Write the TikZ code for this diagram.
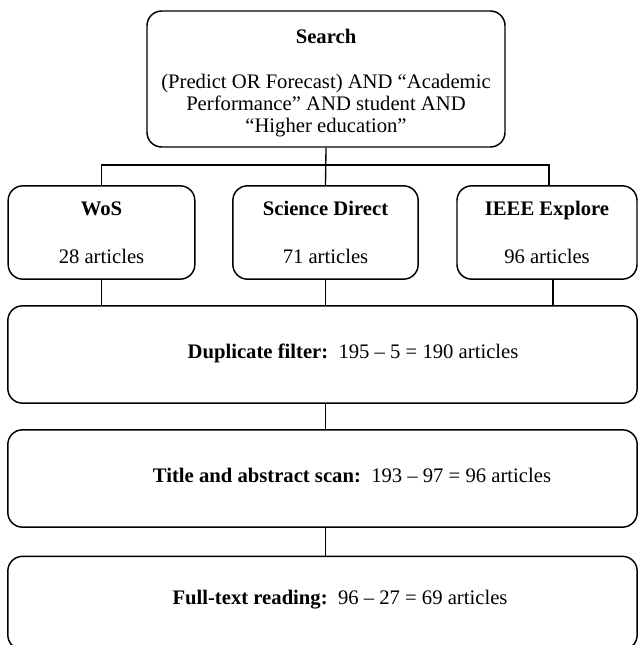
\documentclass[tikz,border=0pt]{standalone}
\usepackage{fontspec}
\setmainfont{Liberation Serif}
\begin{document}
\begin{tikzpicture}[x=0.75pt,y=-0.75pt,
  box/.style={draw,line width=1.1pt,rounded corners=11pt,align=center,inner sep=0pt,
    font=\fontsize{15.5}{16.2}\selectfont},
  lbl/.style={inner sep=0pt,align=center,font=\fontsize{15.5}{16.2}\selectfont},
  conn/.style={line width=1pt}]
\useasboundingbox (0,0) rectangle (638,645);
\clip (0,0) rectangle (638,645);
\node[box,minimum width=268.5pt,minimum height=102pt] (search) at (326,79) {};
\node[lbl] (searchtext) at (326,83)
  {\textbf{Search}\\[17.5pt](Predict OR Forecast) AND “Academic\\Performance” AND student AND\\“Higher education”};
\node[box,minimum width=140pt,minimum height=70pt] (wos) at (101.5,232.5)
  {\textbf{WoS}\\[20pt]28 articles};
\node[box,minimum width=139pt,minimum height=70pt] (sd) at (325.5,232.5)
  {\textbf{Science Direct}\\[20pt]71 articles};
\node[box,minimum width=135pt,minimum height=70pt] (ieee) at (547,232.5)
  {\textbf{IEEE Explore}\\[20pt]96 articles};
\node[box,minimum width=472pt,minimum height=73pt] (dup) at (322.5,354.5) {};
\node[lbl] (duptext) at (353,353) {\textbf{Duplicate filter:}\ \ 195 – 5 = 190 articles};
\node[box,minimum width=472pt,minimum height=73pt] (title) at (322.5,478.5) {};
\node[lbl] (titletext) at (352,475) {\textbf{Title and abstract scan:}\ \ 193 – 97 = 96 articles};
\node[box,minimum width=472pt,minimum height=70pt] (full) at (322.5,603) {};
\node[lbl] (fulltext) at (340,600) {\textbf{Full-text reading:}\ \ 96 – 27 = 69 articles};
\coordinate (hl) at (325,165);
\coordinate (ieeetop) at (549,165);
\coordinate (ieeebot) at (553,279);
\draw[conn] (search.south) -- (sd.north);
\draw[conn] (wos.north) -- (wos.north |- hl) -- (ieeetop) -- (ieeetop |- ieee.north);
\draw[conn] (wos.south) -- (wos.south |- dup.north);
\draw[conn] (sd.south) -- (sd.south |- dup.north);
\draw[conn] (ieeebot) -- (ieeebot |- dup.north);
\draw[conn] (dup.south -| sd.south) -- (title.north -| sd.south);
\draw[conn] (title.south -| sd.south) -- (full.north -| sd.south);
\end{tikzpicture}
\end{document}
